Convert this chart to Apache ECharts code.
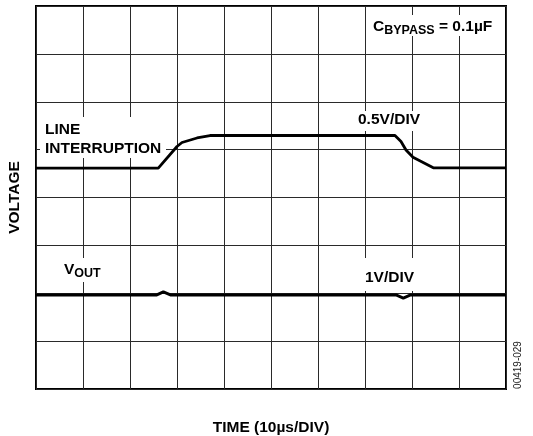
<!DOCTYPE html>
<html>
<head>
<meta charset="utf-8">
<script src="https://cdn.jsdelivr.net/npm/echarts@6/dist/echarts.min.js"></script>
<style>html,body{margin:0;padding:0;background:#fff}#c{width:533px;height:436px}</style>
</head>
<body>
<div id="c"></div>
<script>
// Time axis in divisions (10 µs/DIV), voltage axis in divisions
const lineInterruptionX = [0, 2.602, 3.0, 3.106, 3.426, 3.702, 7.638, 7.766, 7.872, 8.021, 8.453, 10];
const lineInterruptionY = [4.615, 4.615, 5.065, 5.149, 5.243, 5.295, 5.295, 5.170, 4.992, 4.840, 4.620, 4.620];
const voutX = [0, 2.57, 2.71, 2.86, 7.66, 7.815, 7.97, 10];
const voutY = [1.965, 1.965, 2.03, 1.965, 1.965, 1.90, 1.965, 1.965];
const xDivisions = [0, 10];
const yDivisions = [0, 8];

const FF = '"Liberation Sans", Arial, Helvetica, sans-serif';
const chart = echarts.init(document.getElementById('c'), null, {renderer: 'canvas'});

function pairs(xs, ys) { return xs.map((x, i) => [x, ys[i]]); }

const main = {fontSize: 15.5, fontWeight: 'bold', fontFamily: FF, fill: '#000'};
const sub = {fontSize: 12.5, fontWeight: 'bold', fontFamily: FF, fill: '#000', padding: [8, 0, 0, 0]};
const F = 'bold 15.5px ' + FF;

chart.setOption({
  animation: false,
  backgroundColor: '#fff',
  grid: {left: 36, right: 27, top: 6, bottom: 47, containLabel: false, outerBoundsMode: 'none',
         show: true, borderColor: '#000', borderWidth: 2, backgroundColor: 'transparent'},
  xAxis: {
    type: 'value', min: xDivisions[0], max: xDivisions[1], interval: 1,
    axisLabel: {show: false}, axisTick: {show: false}, axisLine: {show: false},
    splitLine: {show: true, lineStyle: {color: '#2a2a2a', width: 1}},
    name: 'TIME (10µs/DIV)', nameLocation: 'middle', nameGap: 31,
    nameTextStyle: {fontSize: 15.5, fontWeight: 'bold', fontFamily: FF, color: '#000'}
  },
  yAxis: {
    type: 'value', min: yDivisions[0], max: yDivisions[1], interval: 1,
    axisLabel: {show: false}, axisTick: {show: false}, axisLine: {show: false},
    splitLine: {show: true, lineStyle: {color: '#2a2a2a', width: 1}},
    name: 'VOLTAGE', nameLocation: 'middle', nameGap: 13,
    nameTextStyle: {fontSize: 15.5, fontWeight: 'bold', fontFamily: FF, color: '#000'}
  },
  series: [
    {type: 'line', name: 'LINE INTERRUPTION', data: pairs(lineInterruptionX, lineInterruptionY), showSymbol: false, z: 5,
     lineStyle: {color: '#000', width: 2.8}, silent: true},
    {type: 'line', name: 'VOUT', data: pairs(voutX, voutY), showSymbol: false, z: 5,
     lineStyle: {color: '#000', width: 3}, silent: true}
  ],
  graphic: [
    // white label backgrounds that interrupt the grid
    {type: 'rect', z: 1, shape: {x: 369, y: 15, width: 131, height: 21}, style: {fill: '#fff'}},
    {type: 'rect', z: 1, shape: {x: 354, y: 111, width: 68, height: 20}, style: {fill: '#fff'}},
    {type: 'rect', z: 1, shape: {x: 40, y: 117, width: 126, height: 41}, style: {fill: '#fff'}},
    {type: 'rect', z: 1, shape: {x: 58, y: 258, width: 50, height: 24}, style: {fill: '#fff'}},
    {type: 'rect', z: 1, shape: {x: 358, y: 258, width: 62, height: 33}, style: {fill: '#fff'}},
    // texts
    {type: 'text', z: 3, x: 373, y: 27, style: {text: '{a|C}{b|BYPASS}{a| = 0.1µF}', align: 'left', verticalAlign: 'middle', rich: {a: main, b: sub}}},
    {type: 'text', z: 3, x: 358, y: 119.5, style: {text: '0.5V/DIV', font: F, fill: '#000', align: 'left', verticalAlign: 'middle'}},
    {type: 'text', z: 3, x: 45, y: 130, style: {text: 'LINE', font: F, fill: '#000', align: 'left', verticalAlign: 'middle'}},
    {type: 'text', z: 3, x: 45, y: 149, style: {text: 'INTERRUPTION', font: F, fill: '#000', align: 'left', verticalAlign: 'middle'}},
    {type: 'text', z: 3, x: 64, y: 269.5, style: {text: '{a|V}{b|OUT}', align: 'left', verticalAlign: 'middle', rich: {a: main, b: sub}}},
    {type: 'text', z: 3, x: 365, y: 278, style: {text: '1V/DIV', font: F, fill: '#000', align: 'left', verticalAlign: 'middle'}},
    {type: 'text', z: 3, x: 518, y: 365, rotation: Math.PI / 2, style: {text: '00419-029', font: '10px ' + FF, fill: '#222', align: 'center', verticalAlign: 'middle'}}
  ]
});
</script>
</body>
</html>
